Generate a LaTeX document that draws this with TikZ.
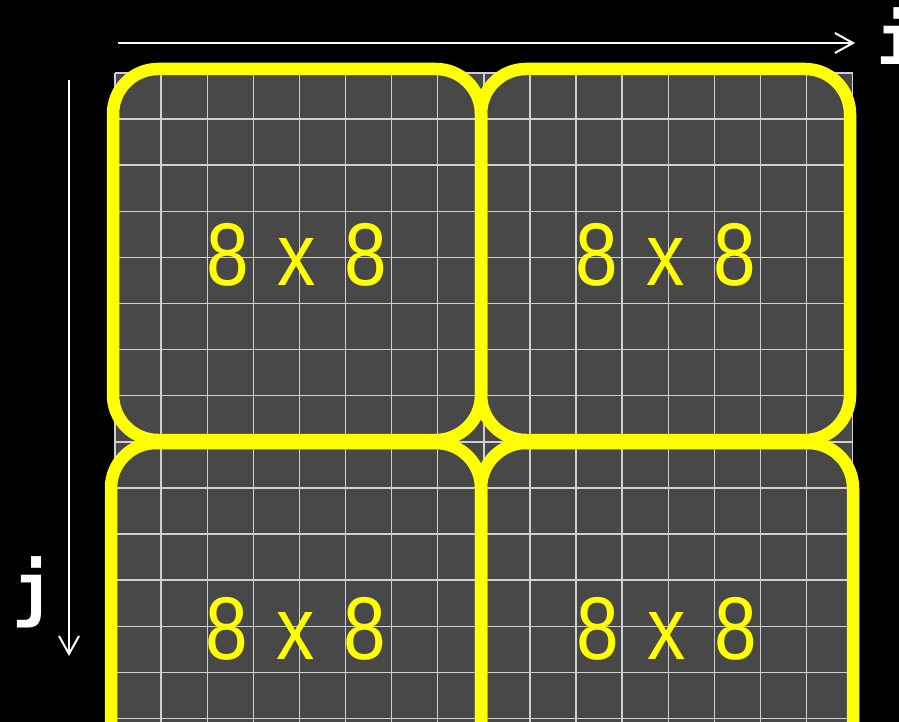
\documentclass[tikz,border=0pt]{standalone}
\usepackage{fontspec}
\newfontfamily\blockfont[FakeStretch=0.86,WordSpace=1.34]{Liberation Sans}
\newfontfamily\axisfont{DejaVu Sans Mono}
\usetikzlibrary{arrows.meta}
\definecolor{cellgray}{HTML}{484848}
\definecolor{gridline}{HTML}{D0D0D0}
\definecolor{boxyellow}{HTML}{FFFF00}
\tikzset{
  blockbox/.style={draw=boxyellow, line width=12.5pt, rounded corners=45pt,
    inner sep=0pt, text=boxyellow, font=\blockfont\fontsize{89}{89}\selectfont},
  axisarrow/.style={draw=white, line width=2pt, -{Straight Barb[length=18pt,width=20pt,line width=2pt]}},
  axislabel/.style={text=white, inner sep=0pt, anchor=base west, font=\axisfont\bfseries\fontsize{70}{70}\selectfont}
}
\begin{document}
\begin{tikzpicture}[x=1pt,y=-1pt]
\fill[black] (0,0) rectangle (899,722);
\useasboundingbox (0,0) rectangle (899,722);
% grid
\fill[cellgray] (115,73) rectangle (852.5,730);
\foreach \k in {0,...,16} {
  \draw[gridline, line width=1.4pt] ({115+46.1*\k},73) -- ({115+46.1*\k},730);
}
\foreach \k in {0,...,14} {
  \draw[gridline, line width=1.4pt] (115,{73+46.1*\k}) -- (852.5,{73+46.1*\k});
}
% blocks
\node[blockbox, minimum width=368pt, minimum height=371pt] (b1) at (297,254.5) {8 x 8};
\node[blockbox, minimum width=369pt, minimum height=371pt] (b2) at (665.5,254.5) {8 x 8};
\node[blockbox, minimum width=370pt, minimum height=372pt] (b3) at (296,629) {8 x 8};
\node[blockbox, minimum width=372pt, minimum height=372pt] (b4) at (667,629) {8 x 8};
% axes
\coordinate (istart) at (118,43);
\coordinate (iend) at (855,43);
\coordinate (jstart) at (69,80);
\coordinate (jend) at (69,656);
\draw[axisarrow] (istart) -- (iend);
\draw[axisarrow] (jstart) -- (jend);
\node[axislabel] (ilabel) at (876,65) {i};
\node[axislabel] (jlabel) at (12,613) {j};
\end{tikzpicture}
\end{document}
